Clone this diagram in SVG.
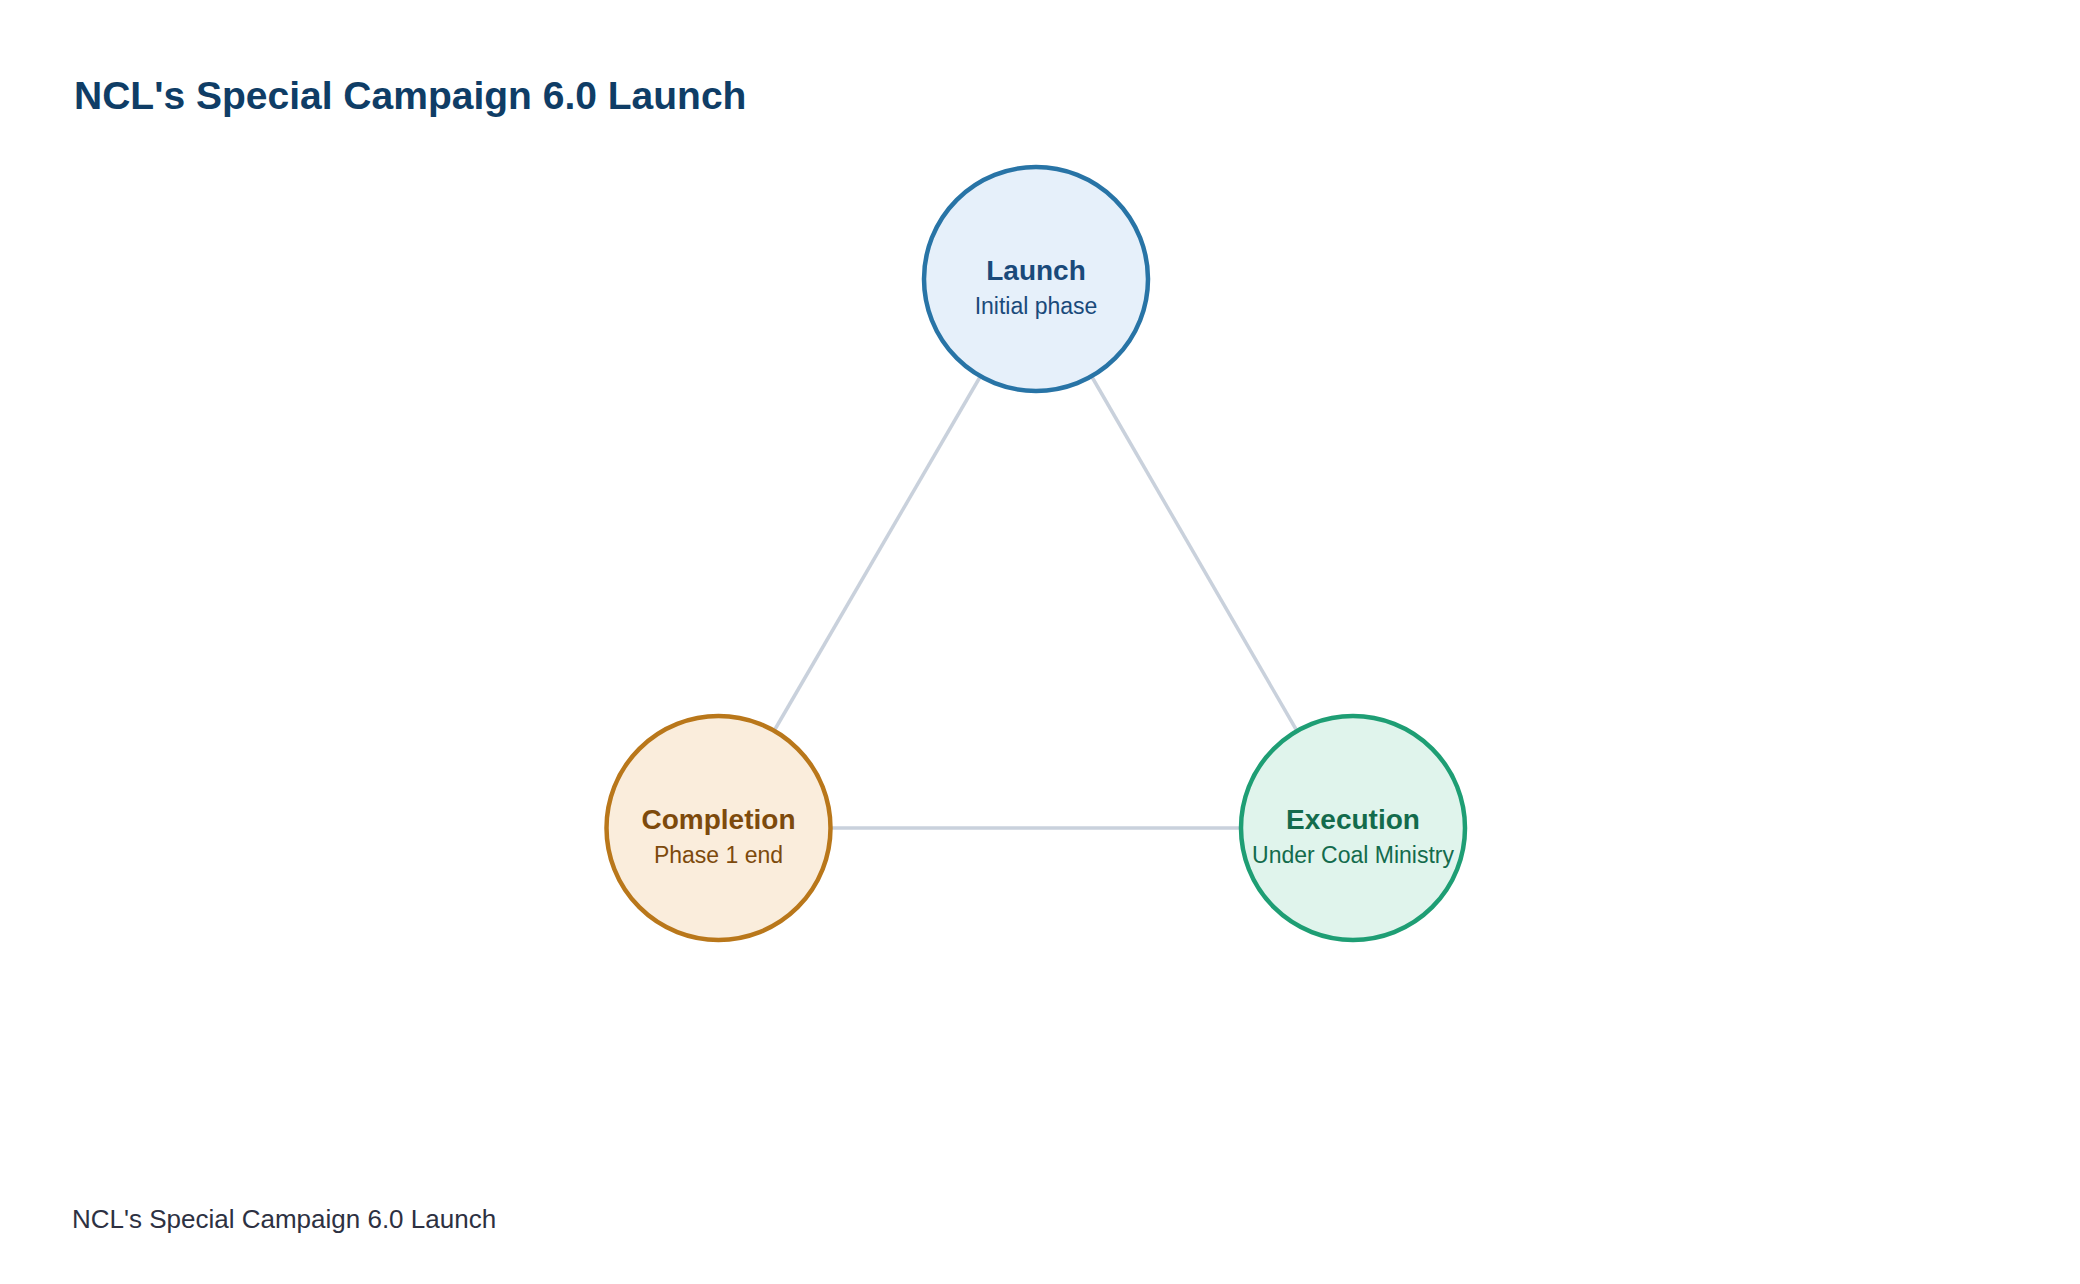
<svg xmlns="http://www.w3.org/2000/svg" width="2080" height="1284" viewBox="0 0 2080 1284">
<style>
text{font-family:"Liberation Sans",Arial,sans-serif}
.title{font-size:39px;font-weight:bold;fill:#0f3d66}
.foot{font-size:26px;fill:#2d3142}
.lbl{font-size:28px;font-weight:bold;text-anchor:middle}
.sub{font-size:23px;text-anchor:middle}
.node{stroke-width:4.5}
.edge{stroke:#c9d1dc;stroke-width:3.5;fill:none}
</style>
<rect width="2080" height="1284" fill="#ffffff"/>
<text class="title" x="74" y="109">NCL's Special Campaign 6.0 Launch</text>
<g id="connectors">
<line class="edge" x1="980" y1="377" x2="774" y2="731"/>
<line class="edge" x1="1092" y1="377" x2="1297" y2="731"/>
<line class="edge" x1="830" y1="828" x2="1241" y2="828"/>
</g>
<g id="node-launch">
<circle class="node" cx="1036" cy="279" r="112" fill="#e6f0fa" stroke="#2874a6"/>
<text class="lbl" x="1036" y="280" fill="#1a4a7a">Launch</text>
<text class="sub" x="1036" y="314" fill="#1a4a7a">Initial phase</text>
</g>
<g id="node-completion">
<circle class="node" cx="718.5" cy="828" r="112" fill="#faeddc" stroke="#b9771a"/>
<text class="lbl" x="718.5" y="829" fill="#7d4a0c">Completion</text>
<text class="sub" x="718.5" y="863" fill="#7d4a0c">Phase 1 end</text>
</g>
<g id="node-execution">
<circle class="node" cx="1353" cy="828" r="112" fill="#e0f4ec" stroke="#1e9e74"/>
<text class="lbl" x="1353" y="829" fill="#136b4c">Execution</text>
<text class="sub" x="1353" y="863" fill="#136b4c">Under Coal Ministry</text>
</g>
<text class="foot" x="72" y="1228">NCL's Special Campaign 6.0 Launch</text>
</svg>
